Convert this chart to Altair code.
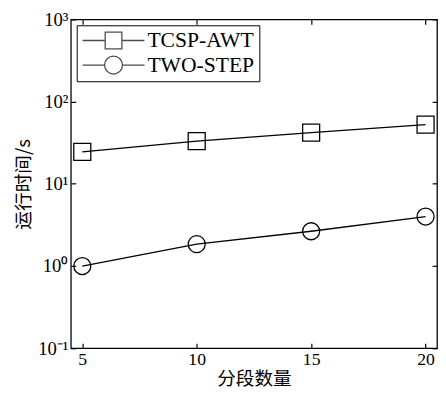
import altair as alt
import pandas as pd

segments = [5, 10, 15, 20]
tcsp_awt = [24.5, 33.0, 42.0, 52.5]
two_step = [1.0, 1.85, 2.65, 4.0]
series_names = ["TCSP-AWT", "TWO-STEP"]
x_ticks = [5, 10, 15, 20]
y_ticks = [0.1, 1, 10, 100, 1000]
x_title = "分段数量"
y_title = "运行时间/s"

rows = []
for name, vals in zip(series_names, [tcsp_awt, two_step]):
    for s, v in zip(segments, vals):
        rows.append({"seg": s, "time": v, "series": name})
df = pd.DataFrame(rows)

W, H = 373, 335
SERIF = "Liberation Serif"
CJK = "Noto Sans CJK SC"

xscale = alt.Scale(domain=[4.5, 20.5], nice=False, zero=False)
yscale = alt.Scale(type="log", domain=[0.1, 1000], nice=False)

sup = "['⁻¹','⁰','¹','²','³'][round(log(datum.value)/LN10)+1]"

base = alt.Chart(df)

lines = base.mark_line(color="black", strokeWidth=1.3).encode(
    x=alt.X("seg:Q", scale=xscale, axis=alt.Axis(
        orient="bottom", values=x_ticks, offset=-5, tickSize=5, domain=False, grid=False,
        labelFont=SERIF, labelFontSize=18, labelPadding=3, labelColor="black",
        tickColor="black", tickWidth=1.2, format="d",
        title=x_title, titleFont=CJK, titleFontSize=19, titleFontWeight="normal",
        titleColor="black", titlePadding=1)),
    y=alt.Y("time:Q", scale=yscale, axis=alt.Axis(
        orient="left", values=y_ticks, offset=-5, tickSize=5, domain=False, grid=False,
        labelExpr="'10' + " + sup, labelFont=SERIF, labelFontSize=19, labelPadding=3,
        labelColor="black", tickColor="black", tickWidth=1.2,
        title=y_title, titleFont=CJK, titleFontSize=19, titleFontWeight="normal",
        titleColor="black", titlePadding=4)),
    detail="series:N",
)

points = base.mark_point(filled=False, color="black", strokeWidth=1.3, opacity=1, size=300).encode(
    x=alt.X("seg:Q", scale=xscale, axis=alt.Axis(
        orient="top", values=x_ticks, offset=-5, tickSize=5, domain=False, grid=False,
        labels=False, title=None, tickColor="black", tickWidth=1.2)),
    y=alt.Y("time:Q", scale=yscale, axis=alt.Axis(
        orient="right", values=y_ticks, offset=-5, tickSize=5, domain=False, grid=False,
        labels=False, title=None, tickColor="black", tickWidth=1.2)),
    shape=alt.Shape("series:N", scale=alt.Scale(domain=series_names, range=["square", "circle"]), legend=None),
)

sq_path = "M-1,0H-0.27M0.27,0H1M-0.27,-0.27H0.27V0.27H-0.27Z"
ci_path = ("M-1,0H-0.29M0.29,0H1M-0.29,0A0.29,0.29 0 1,0 0.29,0"
           "A0.29,0.29 0 1,0 -0.29,0Z")

legend_layer = base.transform_filter("false").mark_point(
    filled=False, color="black", strokeWidth=1.3
).encode(
    x=alt.X("seg:Q", scale=xscale, axis=None),
    y=alt.Y("time:Q", scale=yscale, axis=None),
    shape=alt.Shape("series:N", scale=alt.Scale(domain=series_names, range=[sq_path, ci_path]),
                    legend=alt.Legend(
                        title=None, orient="none", legendX=6, legendY=6,
                        strokeColor="black", fillColor="white", padding=5,
                        symbolSize=3969, symbolStrokeWidth=1.3, symbolStrokeColor="black",
                        symbolFillColor="transparent", labelFont=SERIF, labelFontSize=22,
                        labelColor="black", rowPadding=2, labelOffset=2, clipHeight=21)),
)

chart = alt.layer(lines, points, legend_layer).resolve_scale(
    shape="independent"
).resolve_axis(
    x="independent", y="independent"
).properties(
    width=W, height=H,
    autosize=alt.AutoSizeParams(type="none"),
    padding={"left": 64, "top": 8, "right": 1, "bottom": 45},
).configure_view(stroke="black", strokeWidth=1.3)

chart.save("out.html", embed_options={"renderer": "svg", "actions": False})
